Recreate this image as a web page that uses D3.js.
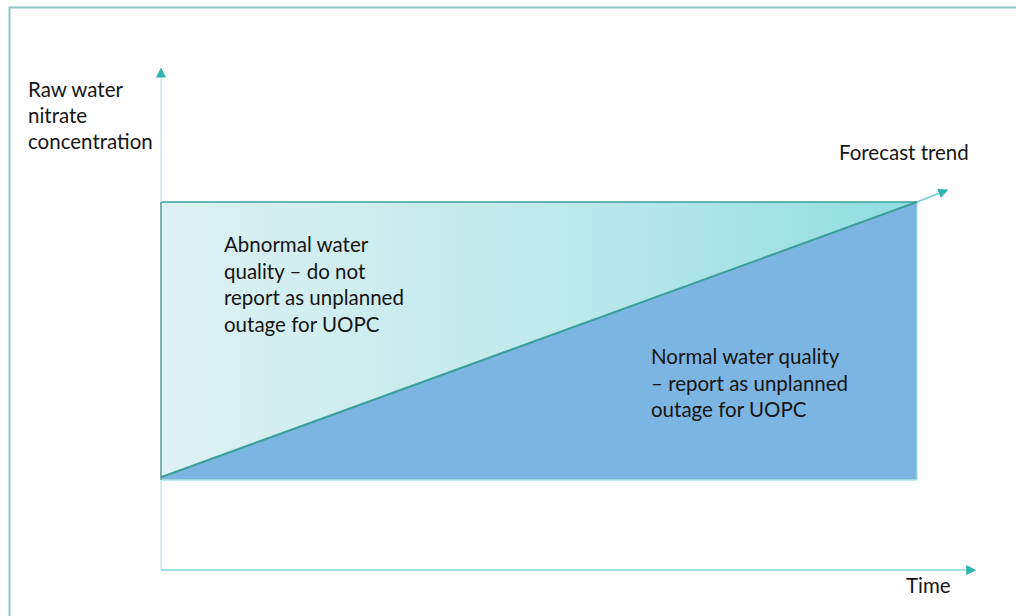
<!DOCTYPE html>
<html><head><meta charset="utf-8">
<script src="https://cdn.jsdelivr.net/npm/d3@7"></script>
<style>
html,body{margin:0;padding:0;background:#fff;}
svg{display:block;}
text{font-family:"Lato","Open Sans",sans-serif;fill:#161616;}
</style></head>
<body>
<svg id="chart" width="1016" height="616"></svg>
<script>
// ---- data ----
const timeDomain = [0, 100];          // start/end of forecast window
const concDomain = [0, 100];          // low/high nitrate band
const trendTimes = [0, 100];
const trendValues = [1, 100];         // forecast trend line
const lowerBand = [0, 0];             // bottom of band
const upperBand = [100, 100];         // top of band
const axisExtent = {x: [0, 107.7], y: [-32.4, 148]};
const trendArrowEnd = {t: 104, v: 104.3};
const yLabelLines = ["Raw water", "nitrate", "concentration"];
const xLabel = "Time";
const trendLabel = "Forecast trend";
const abnormalLines = ["Abnormal water", "quality \u2013 do not", "report as unplanned", "outage for UOPC"];
const normalLines = ["Normal water quality", "\u2013 report as unplanned", "outage for UOPC"];

const svg = d3.select("#chart");
const x = d3.scaleLinear().domain(timeDomain).range([161, 917]);
const y = d3.scaleLinear().domain(concDomain).range([480, 202]);

const defs = svg.append("defs");
const grad = defs.append("linearGradient").attr("id","upperGrad").attr("x1","0%").attr("x2","100%").attr("y1","0%").attr("y2","0%");
grad.append("stop").attr("offset","0%").attr("stop-color","#ddf1f3");
grad.append("stop").attr("offset","55%").attr("stop-color","#bde8ea");
grad.append("stop").attr("offset","100%").attr("stop-color","#8fdde0");
function marker(id, color){
  defs.append("marker").attr("id",id).attr("viewBox","0 0 10 10").attr("refX",9).attr("refY",5)
    .attr("markerWidth",10).attr("markerHeight",10).attr("markerUnits","userSpaceOnUse").attr("orient","auto")
    .append("path").attr("d","M0,0L10,5L0,10Z").attr("fill",color);
}
marker("arrT","#2fb3ae");

// outer frame
svg.append("path").attr("d","M9.5,616V7.5H1016").attr("fill","none").attr("stroke","#8cc6c2").attr("stroke-width",2);

const bandData = trendTimes.map((t,i)=>({t, lo: lowerBand[i], hi: upperBand[i], v: trendValues[i]}));

// upper (abnormal) band
svg.append("path").datum(bandData)
  .attr("d", d3.area().x(d=>x(d.t)).y0(d=>y(d.lo)).y1(d=>y(d.hi)))
  .attr("fill","url(#upperGrad)");
// lower (normal) triangle
svg.append("path").datum(bandData)
  .attr("d", d3.area().x(d=>x(d.t)).y0(d=>y(d.lo)).y1(d=>y(d.v)))
  .attr("fill","#7cb5e1");

// band edges
svg.append("line").attr("x1",x(timeDomain[0])).attr("x2",x(timeDomain[1])).attr("y1",y(upperBand[0])).attr("y2",y(upperBand[1]))
  .attr("stroke","#3f9f9b").attr("stroke-width",1.5);
svg.append("line").attr("x1",x(timeDomain[0])).attr("x2",x(timeDomain[1])).attr("y1",y(lowerBand[0])).attr("y2",y(lowerBand[1]))
  .attr("stroke","#a8e4e6").attr("stroke-width",1.5);
svg.append("line").attr("x1",x(timeDomain[1])).attr("x2",x(timeDomain[1])).attr("y1",y(upperBand[1])).attr("y2",y(lowerBand[1]))
  .attr("stroke","#9fdfe3").attr("stroke-width",1.2);

// axes
svg.append("line").attr("x1",x(0)).attr("x2",x(0)).attr("y1",y(axisExtent.y[0])).attr("y2",y(axisExtent.y[1]))
  .attr("stroke","#cfe6ea").attr("stroke-width",1.5).attr("marker-end","url(#arrT)");
svg.append("line").attr("x1",x(0)).attr("x2",x(0)).attr("y1",y(lowerBand[0])).attr("y2",y(upperBand[0]))
  .attr("stroke","#5f9c9a").attr("stroke-width",1.5);
svg.append("line").attr("x1",x(axisExtent.x[0])).attr("x2",x(axisExtent.x[1])).attr("y1",y(axisExtent.y[0])).attr("y2",y(axisExtent.y[0]))
  .attr("stroke","#a3e0e3").attr("stroke-width",2).attr("marker-end","url(#arrT)");

// trend line
svg.append("path").datum(bandData)
  .attr("d", d3.line().x(d=>x(d.t)).y(d=>y(d.v)))
  .attr("fill","none").attr("stroke","#3a9f99").attr("stroke-width",2);
svg.append("line").attr("x1",x(trendTimes[1])).attr("y1",y(trendValues[1])).attr("x2",x(trendArrowEnd.t)).attr("y2",y(trendArrowEnd.v))
  .attr("stroke","#6fcfcc").attr("stroke-width",1.5).attr("marker-end","url(#arrT)");

// texts
function lines(arr, x0, y0, lh){
  const t = svg.append("text").attr("x",x0).attr("y",y0).attr("font-size",20.5);
  arr.forEach((s,i)=>t.append("tspan").attr("x",x0).attr("y",y0+i*lh).text(s));
}
lines(yLabelLines, 28, 97, 26);
lines([trendLabel], 839, 160, 0);
lines(abnormalLines, 224, 252, 26.5);
lines(normalLines, 651, 364, 26.5);
lines([xLabel], 906, 593, 0);
</script>
</body></html>
